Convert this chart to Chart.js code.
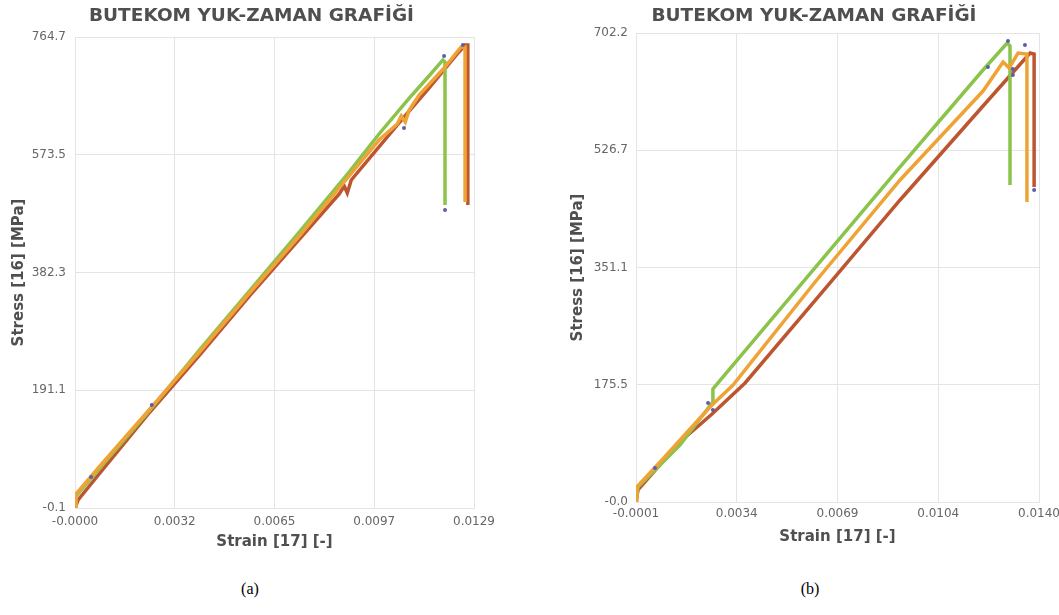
<!DOCTYPE html>
<html>
<head>
<meta charset="utf-8">
<title>BUTEKOM YUK-ZAMAN GRAFİĞİ</title>
<script src="https://cdn.jsdelivr.net/npm/chart.js@4.4.1/dist/chart.umd.min.js"></script>
<style>
  body { margin: 0; background: #fff; width: 1059px; height: 615px; overflow: hidden; position: relative; }
  canvas { position: absolute; top: 0; }
  #chartA { left: 0; }
  #chartB { left: 562px; }
  .cap { position: absolute; top: 580px; width: 100px; text-align: center;
         font-family: "Liberation Serif", serif; font-size: 16px; color: #000; }
  #capA { left: 200px; }
  #capB { left: 760px; }
</style>
</head>
<body>
<canvas id="chartA" width="503" height="560"></canvas>
<canvas id="chartB" width="504" height="560"></canvas>
<div class="cap" id="capA">(a)</div>
<div class="cap" id="capB">(b)</div>
<script>
// ---- (a) ----
var xTicksA = [-0.00002, 0.003215, 0.00645, 0.009685, 0.01292];
var xLabelsA = ['-0.0000', '0.0032', '0.0065', '0.0097', '0.0129'];
var yTicksA = [-0.1, 191.1, 382.3, 573.5, 764.7];
var yLabelsA = ['-0.1', '191.1', '382.3', '573.5', '764.7'];

var strainA_orange = [-0.00002, 0.00001, 0.00079, 0.00241, 0.00402, 0.00564, 0.00726, 0.00887, 0.00984, 0.01043, 0.01056, 0.01069, 0.01082, 0.01114, 0.01195, 0.01250, 0.01263, 0.01263];
var stressA_orange = [0, 22.6, 68.1, 160.7, 253.2, 349.0, 441.6, 539.0, 597.4, 623.4, 636.4, 626.7, 646.2, 670.5, 714.3, 748.5, 748.5, 496.8];

var strainA_green = [-0.00002, 0.00001, 0.00079, 0.00241, 0.00402, 0.00564, 0.00726, 0.00887, 0.00984, 0.01082, 0.01146, 0.01191, 0.01198, 0.01198];
var stressA_green = [0, 19.4, 64.9, 159.0, 256.5, 352.3, 448.1, 545.5, 607.2, 665.6, 701.4, 727.4, 724.1, 491.9];

var strainA_brown = [-0.00002, 0.00008, 0.00079, 0.00241, 0.00402, 0.00564, 0.00726, 0.00855, 0.00871, 0.00881, 0.00894, 0.01049, 0.01146, 0.01243, 0.01263, 0.01272, 0.01272];
var stressA_brown = [0, 12.9, 56.7, 155.8, 248.3, 344.2, 436.7, 509.8, 522.8, 511.4, 532.5, 625.1, 681.9, 740.4, 751.7, 751.7, 491.9];

var markStrainA = [0.01195, 0.01198, 0.01256, 0.01065, 0.00050, 0.00247];
var markStressA = [733.9, 483.8, 751.7, 616.9, 50.2, 167.1];

// ---- (b) ----
var xTicksB = [-0.00008, 0.00343, 0.00694, 0.01045, 0.01396];
var xLabelsB = ['-0.0001', '0.0034', '0.0069', '0.0104', '0.0140'];
var yTicksB = [-0.02, 175.5, 351.1, 526.7, 702.2];
var yLabelsB = ['-0.0', '175.5', '351.1', '526.7', '702.2'];

var strainB_orange = [-0.00008, -0.00005, 0.00076, 0.00215, 0.00257, 0.00330, 0.00616, 0.00912, 0.01201, 0.01271, 0.01292, 0.01323, 0.01354, 0.01354];
var stressB_orange = [0, 22.5, 59.9, 125.8, 145.2, 175.2, 329.4, 482.1, 615.3, 658.8, 649.8, 672.2, 670.7, 449.2];

var strainB_green = [-0.00008, -0.00001, 0.00145, 0.00257, 0.00260, 0.00912, 0.01201, 0.01285, 0.01295, 0.01295];
var stressB_green = [0, 22.5, 85.3, 148.2, 169.2, 501.6, 646.8, 687.2, 682.7, 474.6];

var strainB_brown = [-0.00008, -0.00001, 0.00145, 0.00257, 0.00372, 0.00668, 0.00912, 0.01201, 0.01365, 0.01379, 0.01379];
var stressB_brown = [0, 18.0, 89.8, 131.7, 178.2, 327.9, 452.2, 592.9, 672.2, 670.7, 471.6];

var markStrainB = [0.01288, 0.01218, 0.01347, 0.01305, 0.01305, 0.01379, 0.00243, 0.00260, 0.00058];
var markStressB = [690.2, 651.3, 684.2, 648.3, 639.3, 467.1, 148.2, 137.7, 50.9];

var ORANGE = '#efa336';
var GREEN = '#8cc34b';
var BROWN = '#bd5530';
var DOT = '#5d5db0';
var FONT = '"DejaVu Sans", Verdana, sans-serif';

function pts(xs, ys) {
    return xs.map((x, i) => ({ x: x, y: ys[i] }));
}

function line(xs, ys, color) {
    return {
        type: 'line',
        data: pts(xs, ys),
        borderColor: color,
        backgroundColor: color,
        borderWidth: 3.5,
        pointRadius: 0,
        tension: 0,
        fill: false
    };
}

function drawChart(id, series, marks, ax) {
    const ctx = document.getElementById(id).getContext('2d');
    const datasets = [{
        type: 'scatter',
        data: pts(marks[0], marks[1]),
        pointRadius: 2,
        pointBackgroundColor: DOT,
        pointBorderWidth: 0,
        showLine: false
    }].concat(series);

    return new Chart(ctx, {
        type: 'line',
        data: { datasets: datasets },
        options: {
            responsive: false,
            animation: false,
            devicePixelRatio: 1,
            layout: { padding: 0 },
            plugins: {
                legend: { display: false },
                tooltip: { enabled: false },
                title: {
                    display: true,
                    text: 'BUTEKOM YUK-ZAMAN GRAFİĞİ',
                    color: '#4f4f4f',
                    font: { family: FONT, size: 18.5, weight: 'bold' },
                    padding: { top: 5.4, bottom: ax.titleBottom }
                }
            },
            scales: {
                x: {
                    type: 'linear',
                    min: ax.xTicks[0],
                    max: ax.xTicks[ax.xTicks.length - 1],
                    afterBuildTicks: s => { s.ticks = ax.xTicks.map(v => ({ value: v })); },
                    afterFit: s => { s.height = ax.xHeight; },
                    grid: { color: '#e4e4e4', drawTicks: false },
                    border: { color: '#e4e4e4' },
                    ticks: {
                        padding: ax.xTickPad,
                        maxRotation: 0,
                        autoSkip: false,
                        color: '#666',
                        font: { family: FONT, size: 12 },
                        callback: (v, i) => ax.xLabels[i]
                    },
                    title: {
                        display: true,
                        text: 'Strain [17] [-]',
                        color: '#4f4f4f',
                        font: { family: FONT, size: 15, weight: 'bold' },
                        padding: { top: 0, bottom: ax.xTitlePad }
                    }
                },
                y: {
                    type: 'linear',
                    min: ax.yTicks[0],
                    max: ax.yTicks[ax.yTicks.length - 1],
                    afterBuildTicks: s => { s.ticks = ax.yTicks.map(v => ({ value: v })); },
                    afterFit: s => { s.width = ax.yWidth; },
                    grid: { color: '#e4e4e4', drawTicks: false },
                    border: { color: '#e4e4e4' },
                    ticks: {
                        padding: ax.yTickPad,
                        autoSkip: false,
                        color: '#666',
                        font: { family: FONT, size: 12 },
                        callback: (v, i) => ax.yLabels[i]
                    },
                    title: {
                        display: true,
                        text: 'Stress [16] [MPa]',
                        color: '#4f4f4f',
                        font: { family: FONT, size: 15, weight: 'bold' },
                        padding: { top: ax.yTitlePad, bottom: 0 }
                    }
                },
                // empty strip on the right so the last x label has room
                yRight: {
                    type: 'linear',
                    position: 'right',
                    grid: { display: false },
                    border: { display: false },
                    ticks: { display: false },
                    afterFit: s => { s.width = ax.rightGap; }
                }
            }
        }
    });
}

drawChart('chartA',
    [line(strainA_orange, stressA_orange, ORANGE),
     line(strainA_green, stressA_green, GREEN),
     line(strainA_brown, stressA_brown, BROWN)],
    [markStrainA, markStressA],
    { xTicks: xTicksA, xLabels: xLabelsA, yTicks: yTicksA, yLabels: yLabelsA,
      titleBottom: 9.4, xHeight: 52, xTickPad: 7, xTitlePad: 9,
      yWidth: 75, yTickPad: 9, yTitlePad: 10, rightGap: 29 });

drawChart('chartB',
    [line(strainB_orange, stressB_orange, ORANGE),
     line(strainB_green, stressB_green, GREEN),
     line(strainB_brown, stressB_brown, BROWN)],
    [markStrainB, markStressB],
    { xTicks: xTicksB, xLabels: xLabelsB, yTicks: yTicksB, yLabels: yLabelsB,
      titleBottom: 5.4, xHeight: 58, xTickPad: 5, xTitlePad: 14,
      yWidth: 74, yTickPad: 8, yTitlePad: 7.5, rightGap: 27 });
</script>
</body>
</html>
